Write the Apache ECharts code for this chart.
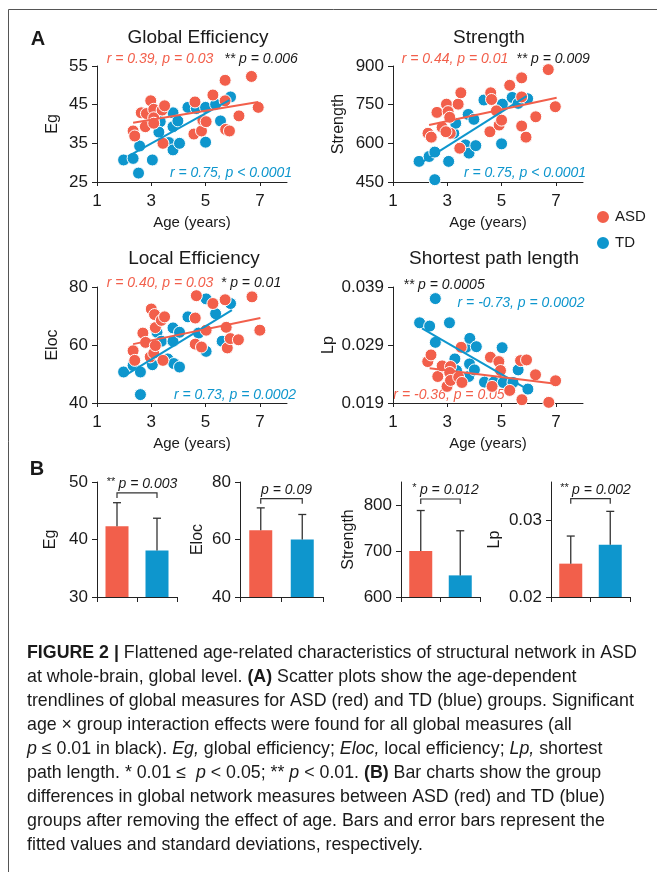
<!DOCTYPE html>
<html><head><meta charset="utf-8">
<script src="https://cdn.jsdelivr.net/npm/echarts@6/dist/echarts.min.js"></script>
<style>html,body{margin:0;padding:0;background:#fff}#c{width:657px;height:872px}</style>
</head><body><div id="c"></div>
<script>
// ---------------- data ----------------
const groups = ['ASD', 'TD'];
const ageTicks = [1, 3, 5, 7];

// Global efficiency (Eg)
const egASD = [[2.33,38.2],[2.39,36.9],[2.63,42.9],[2.82,42.7],[2.78,39.3],[2.98,46.0],[3.09,43.8],[3.09,41.6],[3.09,40.2],[3.40,43.6],[3.49,44.7],[3.43,35.0],[4.57,37.4],[4.61,45.7],[4.85,38.2],[4.90,41.0],[5.02,40.6],[5.27,47.5],[5.72,51.3],[5.72,46.0],[5.74,38.6],[5.88,38.2],[6.23,42.1],[6.69,52.3],[6.94,44.3]];
const egTD = [[1.98,30.7],[2.33,31.1],[2.53,27.3],[2.57,34.3],[3.04,30.7],[3.33,40.6],[3.28,37.9],[3.65,35.2],[3.80,42.9],[3.80,39.3],[3.80,33.3],[3.98,40.8],[4.04,35.0],[4.35,44.3],[4.66,44.0],[5.00,35.3],[5.00,44.3],[5.37,45.1],[5.55,40.8],[5.92,47.0]];
const egFitASD = [[2.33,40.3],[6.94,45.7]];
const egFitTD = [[2.14,31.6],[5.88,46.2]];
const egTicks = [25, 35, 45, 55];

// Strength
const stASD = [[2.29,639],[2.41,624],[2.62,720],[2.81,662],[2.97,752],[3.03,723],[3.09,701],[3.11,639],[2.95,645],[3.40,752],[3.50,796],[3.46,581],[4.60,796],[4.63,770],[4.57,645],[4.81,726],[4.91,671],[5.00,690],[5.30,825],[5.74,854],[5.74,780],[5.74,667],[5.90,624],[6.26,703],[6.72,886],[6.98,742]];
const stTD = [[1.96,530],[2.33,549],[2.54,566],[2.54,459],[3.05,530],[3.24,639],[3.31,678],[3.67,594],[3.77,712],[3.80,562],[3.98,693],[4.05,591],[4.35,768],[5.03,752],[5.00,598],[5.39,778],[5.61,755],[5.96,773]];
const stFitASD = [[2.33,671],[7.03,777]];
const stFitTD = [[2.11,530],[5.92,783]];
const stTicks = [450, 600, 750, 900];

// Local efficiency (Eloc)
const elASD = [[2.33,58.0],[2.39,54.7],[2.69,64.1],[2.79,60.9],[2.96,55.9],[3.00,72.4],[3.12,70.5],[3.15,66.0],[3.09,57.2],[3.15,59.8],[3.37,68.5],[3.49,69.7],[3.43,54.7],[4.66,77.0],[4.62,69.3],[4.62,60.3],[4.85,59.3],[5.02,65.1],[5.27,74.3],[5.72,75.6],[5.76,66.1],[5.80,59.0],[5.91,62.2],[6.21,61.8],[6.71,76.6],[7.00,65.1]];
const elTD = [[1.98,50.7],[2.33,52.9],[2.60,50.7],[2.60,42.9],[3.04,53.2],[3.21,64.4],[3.37,61.3],[3.61,55.2],[3.80,65.9],[3.80,61.3],[3.83,53.6],[4.04,64.4],[4.04,52.4],[4.35,69.7],[4.74,64.1],[5.02,75.9],[5.02,57.8],[5.37,70.8],[5.61,61.3],[5.92,74.3]];
const elFitASD = [[2.33,60.3],[7.02,69.3]];
const elFitTD = [[1.98,49.2],[5.97,72.0]];
const elTicks = [40, 60, 80];

// Shortest path length (Lp)
const lpASD = [[2.28,0.02614],[2.40,0.02729],[2.65,0.02357],[2.81,0.02540],[2.99,0.02186],[3.12,0.02529],[3.09,0.02426],[3.12,0.02289],[3.42,0.02346],[3.51,0.02860],[3.54,0.02254],[4.59,0.02689],[4.65,0.02186],[4.90,0.02614],[4.96,0.02460],[5.30,0.02117],[5.70,0.02631],[5.92,0.02643],[5.75,0.01957],[6.25,0.02386],[6.74,0.01911],[6.99,0.02283]];
const lpTD = [[1.98,0.03283],[2.35,0.03226],[2.56,0.03700],[2.56,0.02946],[3.08,0.03283],[3.28,0.02660],[3.34,0.02460],[3.69,0.02860],[3.83,0.03014],[3.82,0.02574],[3.79,0.02357],[4.00,0.02471],[4.07,0.02871],[4.37,0.02260],[4.71,0.02260],[5.02,0.02854],[5.06,0.02254],[5.42,0.02254],[5.61,0.02471],[5.97,0.02140]];
const lpFitASD = [[2.35,0.0250],[6.99,0.02231]];
const lpFitTD = [[2.07,0.03186],[5.88,0.02157]];
const lpTicks = [0.019, 0.029, 0.039];

// Bar charts (fitted values, SD)
const barEg = [42.3, 38.1];      const sdEg = [4.1, 5.6];
const barEloc = [63.2, 60.0];    const sdEloc = [7.8, 8.7];
const barStr = [700, 647];       const sdStr = [88, 97];
const barLp = [0.02435, 0.02683]; const sdLp = [0.0036, 0.00434];
const bTicksEg = [30, 40, 50];
const bTicksEloc = [40, 60, 80];
const bTicksStr = [600, 700, 800];
const bTicksLp = [0.02, 0.03];
const bracketY = [48.1, 74.2, 813, 0.03283];
const bracketText = ['** p = 0.003', 'p = 0.09', '* p = 0.012', '** p = 0.002'];

// ---------------- style ----------------
const C_ASD = '#F25F4B', C_TD = '#0E96CD';
const FONT = 'Liberation Sans, Arial, Helvetica, sans-serif';
const INK = '#1a1a1a';
const AX = '#222';

const grids = [
  {left: 97, top: 66, width: 190, height: 116},
  {left: 393, top: 66, width: 190, height: 116},
  {left: 97, top: 287, width: 190, height: 116},
  {left: 393, top: 287, width: 190, height: 116},
  {left: 97, top: 482, width: 80, height: 115},
  {left: 240, top: 482, width: 83, height: 115},
  {left: 401, top: 482, width: 79, height: 115},
  {left: 551, top: 482, width: 79, height: 115}
];

function scatterX(i) {
  return {gridIndex: i, type: 'value', min: 1, max: 8,
    name: 'Age (years)', nameLocation: 'middle', nameGap: 33,
    nameTextStyle: {fontSize: 15, color: INK, fontFamily: FONT},
    axisLine: {show: true, lineStyle: {color: AX, width: 1}},
    axisTick: {show: true, length: 4, customValues: ageTicks, lineStyle: {color: AX}},
    axisLabel: {fontSize: 17, color: INK, margin: 11, customValues: ageTicks, fontFamily: FONT},
    splitLine: {show: false}};
}
function valueY(i, min, max, ticks, name, gap, fmt) {
  return {gridIndex: i, type: 'value', min: min, max: max,
    name: name, nameLocation: 'middle', nameGap: gap,
    nameTextStyle: {fontSize: 16, color: INK, fontFamily: FONT},
    axisLine: {show: true, lineStyle: {color: AX, width: 1}},
    axisTick: {show: true, length: 5, customValues: ticks, lineStyle: {color: AX}},
    axisLabel: {fontSize: 17, color: INK, margin: 9, customValues: ticks, fontFamily: FONT,
      formatter: fmt || (v => String(v))},
    splitLine: {show: false}};
}
function barX(i) {
  return {gridIndex: i, type: 'category', data: groups,
    axisLine: {show: true, lineStyle: {color: AX, width: 1}},
    axisTick: {show: true, length: 5, lineStyle: {color: AX}},
    axisLabel: {show: false}, splitLine: {show: false}};
}

function scatterSeries(i, name, data, color) {
  return {type: 'scatter', name: name, xAxisIndex: i, yAxisIndex: i, data: data,
    symbolSize: 12, itemStyle: {color: color, borderColor: '#fff', borderWidth: 1, opacity: 1}, z: 2};
}
function fitSeries(i, data, color) {
  return {type: 'line', xAxisIndex: i, yAxisIndex: i, data: data, symbol: 'none',
    lineStyle: {color: color, width: 2}, z: 4, silent: true};
}
function barSeries(i, vals) {
  return {type: 'bar', xAxisIndex: i, yAxisIndex: i, barWidth: 23,
    data: vals.map((v, k) => ({value: v, itemStyle: {color: k === 0 ? C_ASD : C_TD}})), z: 2};
}
function errSeries(i, vals, sds) {
  return {type: 'custom', xAxisIndex: i, yAxisIndex: i,
    data: vals.map((v, k) => [k, v, sds[k]]), encode: {x: 0, y: 1}, z: 3,
    renderItem: function (p, api) {
      const c = api.value(0), v = api.value(1), s = api.value(2);
      const a = api.coord([c, v]), b = api.coord([c, v + s]);
      return {type: 'group', children: [
        {type: 'line', shape: {x1: a[0], y1: a[1], x2: b[0], y2: b[1]}, style: {stroke: '#333', lineWidth: 1.3}},
        {type: 'line', shape: {x1: b[0] - 4, y1: b[1], x2: b[0] + 4, y2: b[1]}, style: {stroke: '#333', lineWidth: 1.3}}
      ]};
    }};
}
function bracketSeries(i, y, label) {
  return {type: 'custom', xAxisIndex: i, yAxisIndex: i, data: [[0, 1, y]], encode: {x: [0, 1], y: 2}, z: 5,
    renderItem: function (p, api) {
      const yy = api.value(2);
      const a = api.coord([api.value(0), yy]), b = api.coord([api.value(1), yy]);
      const parts = label.split('p =');
      const rich = parts[0].trim() ? '{s|' + parts[0].trim() + '} {i|p =' + parts[1] + '}' : '{i|p =' + parts[1] + '}';
      return {type: 'group', children: [
        {type: 'polyline', shape: {points: [[a[0], a[1] + 5], [a[0], a[1]], [b[0], b[1]], [b[0], b[1] + 5]]},
          style: {stroke: '#333', fill: null, lineWidth: 1.2}},
        {type: 'text', x: (a[0] + b[0]) / 2 + 5, y: a[1] - 9,
          style: {text: rich, align: 'center', verticalAlign: 'middle', fill: INK,
            rich: {s: {fontSize: 11, fontFamily: FONT, fill: INK, padding: [0, 0, 4, 0]},
                   i: {fontSize: 14, fontStyle: 'italic', fontFamily: FONT, fill: INK}}}}
      ]};
    }};
}

function T(x, y, text, o) {
  return {type: 'text', x: x, y: y, style: Object.assign({text: text, fill: INK, fontSize: 14,
    fontFamily: FONT, align: 'center', verticalAlign: 'middle'}, o || {})};
}
const it = (c) => ({fontStyle: 'italic', fill: c, fontSize: 14});

const CAP = 17.8;
const capRich = {
  b: {fontWeight: 'bold', fontSize: CAP, fontFamily: FONT, fill: INK},
  i: {fontStyle: 'italic', fontSize: CAP, fontFamily: FONT, fill: INK},
  n: {fontSize: CAP, fontFamily: FONT, fill: INK}
};
const captionLines = [
  '{b|FIGURE 2 |}{n| Flattened age-related characteristics of structural network in ASD}',
  '{n|at whole-brain, global level. }{b|(A)}{n| Scatter plots show the age-dependent}',
  '{n|trendlines of global measures for ASD (red) and TD (blue) groups. Significant}',
  '{n|age × group interaction effects were found for all global measures (all}',
  '{i|p}{n| ≤ 0.01 in black). }{i|Eg,}{n| global efficiency; }{i|Eloc,}{n| local efficiency; }{i|Lp,}{n| shortest}',
  '{n|path length. * 0.01 ≤  }{i|p}{n| < 0.05; ** }{i|p}{n| < 0.01. }{b|(B)}{n| Bar charts show the group}',
  '{n|differences in global network measures between ASD (red) and TD (blue)}',
  '{n|groups after removing the effect of age. Bars and error bars represent the}',
  '{n|fitted values and standard deviations, respectively.}'
];

const graphic = [
  {type: 'polyline', shape: {points: [[8.5, 880], [8.5, 9.5], [670, 9.5]]}, style: {stroke: '#555', lineWidth: 1, fill: null}},
  T(38, 39, 'A', {fontSize: 20, fontWeight: 'bold'}),
  T(37, 469, 'B', {fontSize: 20, fontWeight: 'bold'}),
  T(198, 38, 'Global Efficiency', {fontSize: 19}),
  T(489, 38, 'Strength', {fontSize: 19}),
  T(194, 259, 'Local Efficiency', {fontSize: 19}),
  T(494, 259, 'Shortest path length', {fontSize: 19}),
  T(160, 59, 'r = 0.39, p = 0.03', it(C_ASD)),
  T(261, 59, '** p = 0.006', it(INK)),
  T(231, 173, 'r = 0.75, p < 0.0001', it(C_TD)),
  T(455, 59, 'r = 0.44, p = 0.01', it(C_ASD)),
  T(553, 59, '** p = 0.009', it(INK)),
  T(525, 173, 'r = 0.75, p < 0.0001', it(C_TD)),
  T(160, 283, 'r = 0.40, p = 0.03', it(C_ASD)),
  T(251, 283, '* p = 0.01', it(INK)),
  T(235, 395, 'r = 0.73, p = 0.0002', it(C_TD)),
  T(444, 285, '** p = 0.0005', it(INK)),
  T(521, 303, 'r = -0.73, p = 0.0002', it(C_TD)),
  T(449, 395, 'r = -0.36, p = 0.05', it(C_ASD))
];
captionLines.forEach((l, k) => {
  graphic.push({type: 'text', x: 27, y: 653 + k * 24,
    style: {text: l, rich: capRich, align: 'left', verticalAlign: 'middle', fontSize: CAP, fontFamily: FONT, fill: INK}});
});

const option = {
  animation: false,
  backgroundColor: '#fff',
  textStyle: {fontFamily: FONT},
  grid: grids,
  legend: {data: ['ASD', 'TD'], orient: 'vertical', left: 590, top: 204, itemWidth: 14, itemHeight: 14,
    itemGap: 10, icon: 'circle', textStyle: {fontSize: 15, color: INK, fontFamily: FONT}},
  xAxis: [scatterX(0), scatterX(1), scatterX(2), scatterX(3), barX(4), barX(5), barX(6), barX(7)],
  yAxis: [
    valueY(0, 25, 55, egTicks, 'Eg', 36),
    valueY(1, 450, 900, stTicks, 'Strength', 46),
    valueY(2, 40, 80, elTicks, 'Eloc', 36),
    valueY(3, 0.019, 0.039, lpTicks, 'Lp', 56, v => v.toFixed(3)),
    valueY(4, 30, 50, bTicksEg, 'Eg', 38),
    valueY(5, 40, 80, bTicksEloc, 'Eloc', 34),
    valueY(6, 600, 850, bTicksStr, 'Strength', 44),
    valueY(7, 0.02, 0.035, bTicksLp, 'Lp', 48, v => v.toFixed(2))
  ],
  series: [
    scatterSeries(0, 'TD', egTD, C_TD), scatterSeries(0, 'ASD', egASD, C_ASD),
    fitSeries(0, egFitTD, C_TD), fitSeries(0, egFitASD, C_ASD),
    scatterSeries(1, 'TD', stTD, C_TD), scatterSeries(1, 'ASD', stASD, C_ASD),
    fitSeries(1, stFitTD, C_TD), fitSeries(1, stFitASD, C_ASD),
    scatterSeries(2, 'TD', elTD, C_TD), scatterSeries(2, 'ASD', elASD, C_ASD),
    fitSeries(2, elFitTD, C_TD), fitSeries(2, elFitASD, C_ASD),
    scatterSeries(3, 'TD', lpTD, C_TD), scatterSeries(3, 'ASD', lpASD, C_ASD),
    fitSeries(3, lpFitTD, C_TD), fitSeries(3, lpFitASD, C_ASD),
    barSeries(4, barEg), errSeries(4, barEg, sdEg), bracketSeries(4, bracketY[0], bracketText[0]),
    barSeries(5, barEloc), errSeries(5, barEloc, sdEloc), bracketSeries(5, bracketY[1], bracketText[1]),
    barSeries(6, barStr), errSeries(6, barStr, sdStr), bracketSeries(6, bracketY[2], bracketText[2]),
    barSeries(7, barLp), errSeries(7, barLp, sdLp), bracketSeries(7, bracketY[3], bracketText[3])
  ],
  graphic: graphic
};
const chart = echarts.init(document.getElementById('c'), null, {renderer: 'canvas'});
chart.setOption(option);
</script></body></html>
